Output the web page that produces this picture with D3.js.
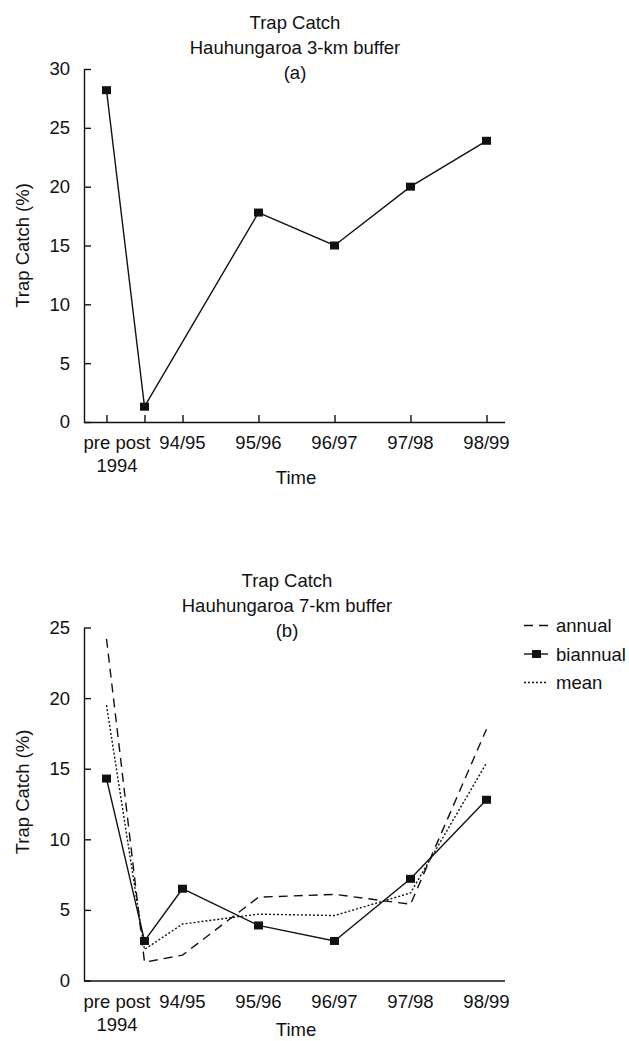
<!DOCTYPE html>
<html>
<head>
<meta charset="utf-8">
<script src="https://cdn.jsdelivr.net/npm/d3@7"></script>
<style>
  body { margin: 0; background: #fff; }
  svg { display: block; font-family: "Liberation Sans", Arial, Helvetica, sans-serif; }
</style>
</head>
<body>
<svg id="chart" width="629" height="1041"></svg>
<script>
// categories along the time axis ("pre"/"post" share the 1994 label)
const categories = ["pre", "post", "94/95", "95/96", "96/97", "97/98", "98/99"];
const preLabelYear = "1994";

// (a) 3-km buffer, no survey in 94/95
const catch3km = [28.2, 1.3, null, 17.8, 15.0, 20.0, 23.9];

// (b) 7-km buffer
const annual7km = [24.2, 1.3, 1.8, 5.9, 6.1, 5.4, 17.8];
const biannual7km = [14.3, 2.8, 6.5, 3.9, 2.8, 7.2, 12.8];
const mean7km = [19.5, 2.2, 4.0, 4.7, 4.6, 6.2, 15.4];

const yTicksA = [0, 5, 10, 15, 20, 25, 30];
const yTicksB = [0, 5, 10, 15, 20, 25];

const ink = "#111";

class TrapCatchPanel {
  constructor(svg, { top, titleLines, titleX, yMax, yTicks, xTicks, timeY, yLabelShift, series, legend }) {
    this.svg = svg;
    this.top = top;
    this.titleLines = titleLines;
    this.titleX = titleX;
    this.yMax = yMax;
    this.yTicks = yTicks;
    this.xTicks = xTicks;
    this.timeY = timeY;
    this.yLabelShift = yLabelShift;
    this.series = series;
    this.legend = legend;
    this.init();
  }

  init() {
    this.setup();
    this.scaffold();
    this.render();
  }

  setup() {
    this.marginLeft = 84;
    this.plotRight = 505;
    this.plotHeight = 353;
    this.fontSize = 18.5;
    this.bottom = this.top + this.plotHeight;
    // pre/post sit half a step apart, the seasons a full step
    this.x = d3
      .scaleLinear()
      .domain([0, 2, categories.length - 1])
      .range([106.5, 182.5, 486.5]);
    this.y = d3
      .scaleLinear()
      .domain([0, this.yMax])
      .range([this.bottom, this.top]);
  }

  scaffold() {
    this.g = this.svg
      .append("g")
      .attr("font-size", this.fontSize)
      .attr("fill", ink);
    this.gTitle = this.g.append("g").attr("text-anchor", "middle");
    this.gY = this.g.append("g").attr("transform", `translate(${this.marginLeft},0)`);
    this.gX = this.g.append("g").attr("transform", `translate(0,${this.bottom})`);
    this.gLines = this.g.append("g");
    this.gLegend = this.g.append("g");
  }

  render() {
    const fs = this.fontSize;

    this.gTitle
      .selectAll("text")
      .data(this.titleLines)
      .join("text")
      .attr("x", this.titleX)
      .attr("y", (d, i) => this.top - 40.5 + i * 25)
      .text((d) => d);

    // y axis, ticks pointing into the plot
    this.gY.call(
      d3
        .axisLeft(this.y)
        .tickValues(this.yTicks)
        .tickSizeInner(-7)
        .tickSizeOuter(0)
        .tickPadding(14)
    );
    this.gY.attr("font-size", fs).attr("font-family", null);
    this.gY.selectAll("path, line").attr("stroke", ink).attr("stroke-width", 1.4);
    this.gY.selectAll("text").attr("fill", ink);

    this.g
      .append("text")
      .attr(
        "transform",
        `translate(28.5,${(this.top + this.bottom) / 2 + this.yLabelShift}) rotate(-90)`
      )
      .attr("text-anchor", "middle")
      .text("Trap Catch (%)");

    // x axis baseline runs the full plot width
    this.gX
      .append("line")
      .attr("x1", this.marginLeft)
      .attr("x2", this.plotRight)
      .attr("y1", 0.5)
      .attr("y2", 0.5)
      .attr("stroke", ink)
      .attr("stroke-width", 1.4);

    const xAxis = d3
      .axisBottom(this.x)
      .tickValues(d3.range(categories.length))
      .tickSizeInner(this.xTicks ? -7 : 0)
      .tickSizeOuter(0)
      .tickFormat("");
    const gTicks = this.gX.append("g").call(xAxis);
    gTicks.select(".domain").remove();
    gTicks.selectAll("line").attr("stroke", ink).attr("stroke-width", 1.4);

    const preX = (this.x(0) + this.x(1)) / 2 - 8.5;
    const labels = [
      { text: `${categories[0]} ${categories[1]}`, x: preX, row: 0 },
      { text: preLabelYear, x: preX, row: 1 },
      ...categories.slice(2).map((c, i) => ({ text: c, x: this.x(i + 2), row: 0 })),
    ];
    this.gX
      .append("g")
      .attr("text-anchor", "middle")
      .selectAll("text")
      .data(labels)
      .join("text")
      .attr("x", (d) => d.x)
      .attr("y", (d) => 27 + d.row * 23)
      .text((d) => d.text);

    this.gX
      .append("text")
      .attr("text-anchor", "middle")
      .attr("x", 296)
      .attr("y", this.timeY)
      .text("Time");

    // series
    const line = d3
      .line()
      .x((d) => this.x(d.i))
      .y((d) => this.y(d.v));

    this.series.forEach((s) => {
      const pts = s.values
        .map((v, i) => ({ i, v }))
        .filter((d) => d.v !== null);
      this.gLines
        .append("path")
        .attr("d", line(pts))
        .attr("fill", "none")
        .attr("stroke", ink)
        .attr("stroke-width", s.width)
        .attr("stroke-dasharray", s.dash);
      if (s.marker) {
        this.gLines
          .append("g")
          .selectAll("rect")
          .data(pts)
          .join("rect")
          .attr("x", (d) => this.x(d.i) - 4.5)
          .attr("y", (d) => this.y(d.v) - 4)
          .attr("width", 9)
          .attr("height", 8)
          .attr("fill", ink);
      }
    });

    if (!this.legend) return;
    const rows = this.gLegend
      .selectAll("g")
      .data(this.series)
      .join("g")
      .attr("transform", (d, i) => `translate(524,${this.top - 2 + i * 28.5})`);
    rows
      .append("line")
      .attr("x1", 0)
      .attr("x2", 24)
      .attr("stroke", ink)
      .attr("stroke-width", (d) => d.width)
      .attr("stroke-dasharray", (d) => d.dash);
    rows
      .filter((d) => d.marker)
      .append("rect")
      .attr("x", 8)
      .attr("y", -4)
      .attr("width", 9)
      .attr("height", 8)
      .attr("fill", ink);
    rows
      .append("text")
      .attr("x", 32)
      .attr("y", 6.5)
      .text((d) => d.name);
  }
}

const svg = d3.select("#chart");

new TrapCatchPanel(svg, {
  top: 69,
  titleLines: ["Trap Catch", "Hauhungaroa 3-km buffer", "(a)"],
  titleX: 295,
  yMax: 30,
  yTicks: yTicksA,
  xTicks: true,
  timeY: 62,
  yLabelShift: 0,
  series: [{ name: "biannual", values: catch3km, dash: null, width: 1.4, marker: true }],
  legend: false,
});

new TrapCatchPanel(svg, {
  top: 627.5,
  titleLines: ["Trap Catch", "Hauhungaroa 7-km buffer", "(b)"],
  titleX: 287,
  yMax: 25,
  yTicks: yTicksB,
  xTicks: false,
  timeY: 55.5,
  yLabelShift: -12,
  series: [
    { name: "annual", values: annual7km, dash: "9,6", width: 1.4, marker: false },
    { name: "biannual", values: biannual7km, dash: null, width: 1.4, marker: true },
    { name: "mean", values: mean7km, dash: "2,2", width: 1.4, marker: false },
  ],
  legend: true,
});
</script>
</body>
</html>
